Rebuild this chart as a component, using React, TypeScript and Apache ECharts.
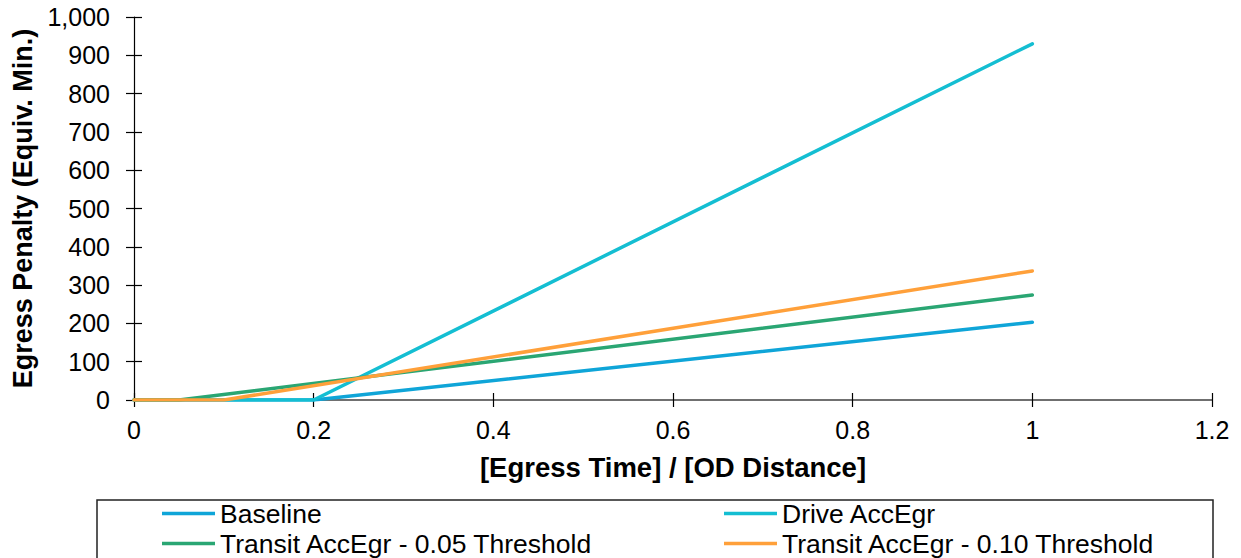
import React, { useEffect, useRef } from "react";
import * as echarts from "echarts";

const seriesNames = [
  "Baseline",
  "Drive AccEgr",
  "Transit AccEgr - 0.05 Threshold",
  "Transit AccEgr - 0.10 Threshold",
];
const seriesColors = ["#0FA5D8", "#14BED2", "#2AA673", "#FFA03A"];

const baselineX = [0, 0.2, 1];
const baselineY = [0, 0, 203];
const driveX = [0, 0.2, 1];
const driveY = [0, 0, 930];
const transit05X = [0, 0.05, 1];
const transit05Y = [0, 0, 274];
const transit10X = [0, 0.1, 1];
const transit10Y = [0, 0, 337];

const xTickLabels = ["0", "0.2", "0.4", "0.6", "0.8", "1", "1.2"];
const yTickLabels = ["0", "100", "200", "300", "400", "500", "600", "700", "800", "900", "1,000"];

const FONT = "'Liberation Sans', Arial, sans-serif";

const zip = (xs: number[], ys: number[]) => xs.map((x, i) => [x, ys[i]]);

export default function App() {
  const ref = useRef<HTMLDivElement>(null);
  useEffect(() => {
    if (!ref.current) return;
    const chart = echarts.init(ref.current, undefined, { renderer: "svg" });
    const seriesData = [
      zip(baselineX, baselineY),
      zip(driveX, driveY),
      zip(transit05X, transit05Y),
      zip(transit10X, transit10Y),
    ];
    const legendPos = [
      { left: 162, top: 500 },
      { left: 724, top: 500 },
      { left: 162, top: 530 },
      { left: 724, top: 530 },
    ];
    const xCommon = {
      type: "value" as const,
      min: 0,
      max: 1.2,
      interval: 0.2,
      splitLine: { show: false },
    };
    const yCommon = {
      type: "value" as const,
      min: 0,
      max: 1000,
      interval: 100,
      splitLine: { show: false },
    };
    chart.setOption({
      animation: false,
      textStyle: { fontFamily: FONT },
      grid: { left: 134, right: 29, top: 17, bottom: 158, containLabel: false },
      xAxis: [
        {
          ...xCommon,
          position: "bottom",
          axisLine: { show: true, lineStyle: { color: "#404040", width: 1.5 } },
          axisTick: { show: true, inside: false, length: 7, lineStyle: { color: "#000", width: 1.2 } },
          axisLabel: {
            color: "#000",
            fontSize: 25,
            fontFamily: FONT,
            margin: 17,
            formatter: (v: number) => xTickLabels[Math.round(v / 0.2)] ?? "",
          },
          name: "[Egress Time] / [OD Distance]",
          nameLocation: "middle",
          nameGap: 53,
          nameTextStyle: { color: "#000", fontSize: 27.5, fontWeight: "bold", fontFamily: FONT },
        },
        {
          ...xCommon,
          position: "bottom",
          axisLine: { show: false },
          axisTick: { show: true, inside: true, length: 7, lineStyle: { color: "#000", width: 1.2 } },
          axisLabel: { show: false },
        },
      ],
      yAxis: [
        {
          ...yCommon,
          position: "left",
          axisLine: { show: true, lineStyle: { color: "#000", width: 1.2 } },
          axisTick: { show: true, inside: false, length: 8, lineStyle: { color: "#000", width: 1.2 } },
          axisLabel: {
            color: "#000",
            fontSize: 25,
            fontFamily: FONT,
            margin: 24,
            formatter: (v: number) => yTickLabels[Math.round(v / 100)] ?? "",
          },
          name: "Egress Penalty (Equiv. Min.)",
          nameLocation: "middle",
          nameGap: 94,
          nameRotate: 90,
          nameTextStyle: { color: "#000", fontSize: 27, fontWeight: "bold", fontFamily: FONT },
        },
        {
          ...yCommon,
          position: "left",
          axisLine: { show: false },
          axisTick: { show: true, inside: true, length: 8, lineStyle: { color: "#000", width: 1.2 } },
          axisLabel: { show: false },
        },
      ],
      legend: seriesNames.map((name, i) => ({
        data: [name],
        left: legendPos[i].left,
        top: legendPos[i].top,
        padding: 0,
        icon: "rect",
        itemWidth: 53,
        itemHeight: 3.5,
        textStyle: { color: "#000", fontSize: 26.5, fontFamily: FONT },
      })),
      graphic: [
        {
          type: "rect",
          shape: { x: 97, y: 500, width: 1116, height: 80 },
          style: { fill: "none", stroke: "#222", lineWidth: 1.5 },
          silent: true,
        },
      ],
      series: seriesNames.map((name, i) => ({
        name,
        type: "line",
        xAxisIndex: 0,
        yAxisIndex: 0,
        data: seriesData[i],
        showSymbol: false,
        symbol: "none",
        color: seriesColors[i],
        lineStyle: { color: seriesColors[i], width: 3.5, cap: "round", join: "round" },
      })),
    });
    return () => chart.dispose();
  }, []);
  return (
    <div
      ref={ref}
      style={{ position: "fixed", left: 0, top: 0, width: 1241, height: 558, background: "#fff" }}
    />
  );
}
